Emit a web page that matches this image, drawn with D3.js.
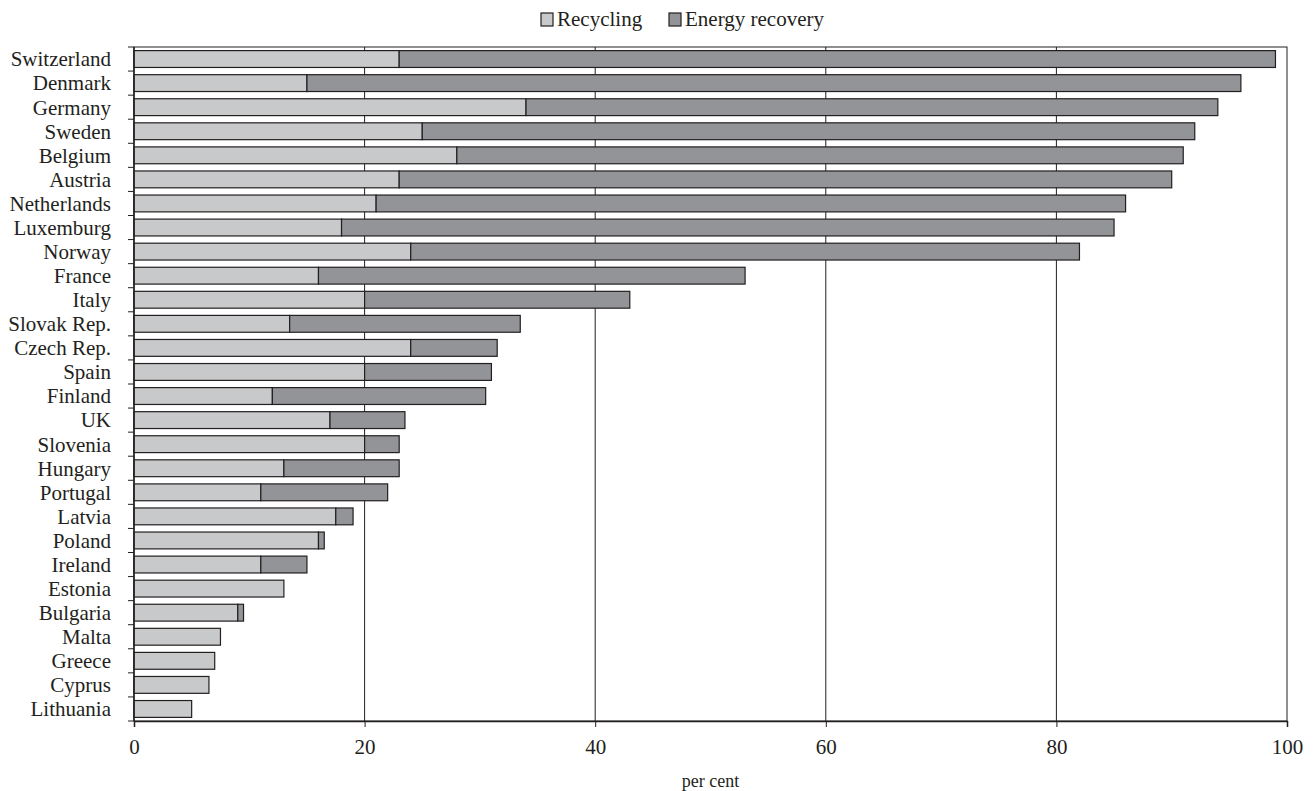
<!DOCTYPE html>
<html>
<head>
<meta charset="utf-8">
<script src="https://cdn.jsdelivr.net/npm/d3@7"></script>
<style>
  body { margin: 0; background: #fff; }
  text { font-family: "Liberation Serif", "Times New Roman", serif; fill: #231f20; }
</style>
</head>
<body>
<div id="chart"></div>
<script>
var countries = ["Switzerland", "Denmark", "Germany", "Sweden", "Belgium", "Austria", "Netherlands",
  "Luxemburg", "Norway", "France", "Italy", "Slovak Rep.", "Czech Rep.", "Spain", "Finland", "UK",
  "Slovenia", "Hungary", "Portugal", "Latvia", "Poland", "Ireland", "Estonia", "Bulgaria", "Malta",
  "Greece", "Cyprus", "Lithuania"];
var recycling = [23, 15, 34, 25, 28, 23, 21, 18, 24, 16, 20, 13.5, 24, 20, 12, 17,
  20, 13, 11, 17.5, 16, 11, 13, 9, 7.5, 7, 6.5, 5];
var energyRecovery = [76, 81, 60, 67, 63, 67, 65, 67, 58, 37, 23, 20, 7.5, 11, 18.5, 6.5,
  3, 10, 11, 1.5, 0.5, 4, 0, 0.5, 0, 0, 0, 0];
var seriesNames = ["Recycling", "Energy recovery"];
var xTicks = [0, 20, 40, 60, 80, 100];

var margin = {top: 47, right: 29, bottom: 70, left: 134};
var width = 1316 - margin.left - margin.right;
var height = 791 - margin.top - margin.bottom;
var colors = ["#c8c9cb", "#939497"];
var ink = "#231f20";

var data = countries.map(function(c, i) {
  return {country: c, rec: recycling[i], energy: energyRecovery[i]};
});

var x = d3.scaleLinear().domain([0, 100]).range([0, width]);
var y = d3.scaleBand()
  .domain(countries)
  .range([0, height])
  .paddingInner(0.3)
  .paddingOuter(0.15);

var svg = d3.select("#chart").append("svg")
  .attr("width", 1316)
  .attr("height", 791)
  .append("g")
  .attr("transform", "translate(" + margin.left + "," + margin.top + ")");

// frame + gridlines
svg.append("rect")
  .attr("width", width).attr("height", height)
  .attr("fill", "none").attr("stroke", ink).attr("stroke-width", 1);

svg.selectAll(".grid")
  .data(xTicks.slice(1, -1))
  .enter().append("line")
  .attr("x1", function(d) { return x(d); })
  .attr("x2", function(d) { return x(d); })
  .attr("y1", 0).attr("y2", height)
  .attr("stroke", ink).attr("stroke-width", 1);

// stacked bars
svg.selectAll(".rec")
  .data(data)
  .enter().append("rect")
  .attr("x", x(0))
  .attr("y", function(d) { return y(d.country); })
  .attr("width", function(d) { return x(d.rec) - x(0); })
  .attr("height", y.bandwidth())
  .attr("fill", colors[0]).attr("stroke", ink).attr("stroke-width", 1.2);

svg.selectAll(".energy")
  .data(data.filter(function(d) { return d.energy > 0; }))
  .enter().append("rect")
  .attr("x", function(d) { return x(d.rec); })
  .attr("y", function(d) { return y(d.country); })
  .attr("width", function(d) { return x(d.rec + d.energy) - x(d.rec); })
  .attr("height", y.bandwidth())
  .attr("fill", colors[1]).attr("stroke", ink).attr("stroke-width", 1.2);

// y axis: tick marks at band boundaries, labels centred on bars
var step = y.step();
var yAxis = svg.append("g");
yAxis.append("line")
  .attr("x1", 0).attr("x2", 0).attr("y1", 0).attr("y2", height)
  .attr("stroke", ink).attr("stroke-width", 1.5);
yAxis.selectAll(".ytick")
  .data(d3.range(countries.length + 1))
  .enter().append("line")
  .attr("x1", -6).attr("x2", 0)
  .attr("y1", function(i) { return i * step; })
  .attr("y2", function(i) { return i * step; })
  .attr("stroke", ink).attr("stroke-width", 1);
yAxis.selectAll(".ylabel")
  .data(countries)
  .enter().append("text")
  .attr("x", -23)
  .attr("y", function(d) { return y(d) + y.bandwidth() / 2; })
  .attr("dy", "0.35em")
  .attr("text-anchor", "end")
  .style("font-size", "21px")
  .text(function(d) { return d; });

// x axis
var xAxis = svg.append("g")
  .attr("transform", "translate(0," + height + ")")
  .call(d3.axisBottom(x).tickValues(xTicks).tickSize(6).tickPadding(12));
xAxis.select(".domain").attr("stroke", ink).attr("stroke-width", 1.5);
xAxis.selectAll(".tick line").attr("stroke", ink);
xAxis.selectAll(".tick text")
  .style("font-size", "21px")
  .style("font-family", "'Liberation Serif', serif")
  .attr("fill", ink);

svg.append("text")
  .attr("x", width / 2)
  .attr("y", height + 66)
  .attr("text-anchor", "middle")
  .style("font-size", "18px")
  .text("per cent");

// legend
var legendX = [541 - margin.left, 669 - margin.left];
var legend = svg.selectAll(".legend")
  .data(seriesNames)
  .enter().append("g")
  .attr("transform", function(d, i) { return "translate(" + legendX[i] + "," + (-34) + ")"; });
legend.append("rect")
  .attr("width", 12).attr("height", 13)
  .attr("fill", function(d, i) { return colors[i]; })
  .attr("stroke", ink).attr("stroke-width", 1.2);
legend.append("text")
  .attr("x", 16).attr("y", 13)
  .style("font-size", "21px")
  .text(function(d) { return d; });
</script>
</body>
</html>
